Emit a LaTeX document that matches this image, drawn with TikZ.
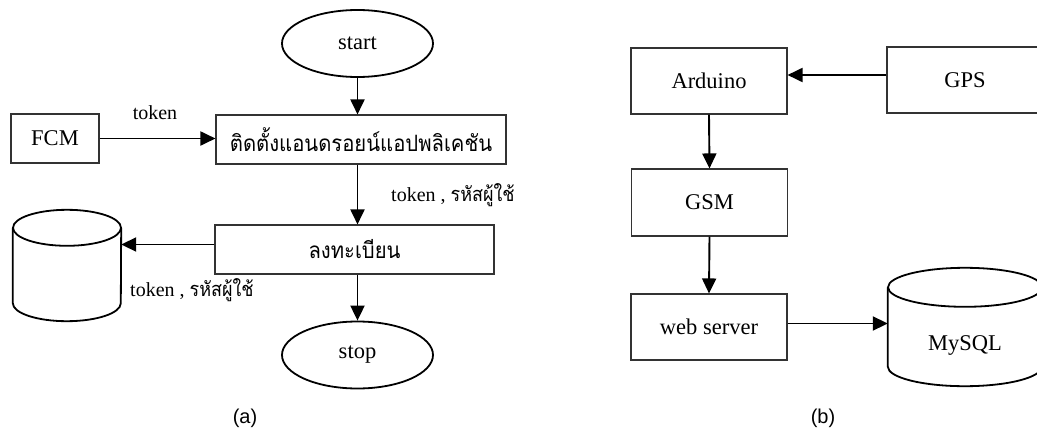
\documentclass[tikz,border=0pt]{standalone}
\usepackage{fontspec}
\setmainfont{Liberation Serif}
\newfontfamily\thaifont[Script=Thai]{Loma}
\newfontfamily\capfont{Liberation Sans}
\usetikzlibrary{arrows.meta,shapes.geometric}
% Thai text is set slightly condensed
\newcommand{\thaitext}[1]{\scalebox{0.9}[1]{\thaifont #1}}

\begin{document}
\begin{tikzpicture}[x=1pt,y=-1pt,
  procbox/.style={rectangle, draw=black!80, line width=1.1pt, inner sep=0pt,
    font=\fontsize{22.5}{26}\selectfont},
  terminal/.style={ellipse, draw, line width=1.8pt, inner sep=0pt,
    minimum width=151pt, minimum height=67pt, font=\fontsize{22.5}{26}\selectfont},
  dbnode/.style={rectangle, draw=none, inner sep=0pt},
  dbline/.style={line width=1.8pt},
  dbtext/.style={font=\fontsize{22.5}{26}\selectfont, inner sep=0pt},
  flow/.style={-{Triangle[length=15pt,width=14pt]}, line width=1.9pt},
  lbl/.style={font=\fontsize{20}{24}\selectfont, inner sep=0pt},
  caption/.style={font=\capfont\fontsize{20}{24}\selectfont, inner sep=0pt}
]
\useasboundingbox (0,0) rectangle (1037,431);
\clip (0,0) rectangle (1037,431);

% ---------- (a) registration flow ----------
\node[terminal] (start) at (357.5,43.5) {start};
\node[procbox, minimum width=290pt, minimum height=49pt] (install) at (361,139.5)
  {\thaitext{ติดตั้งแอนดรอยน์แอปพลิเคชัน}};
\node[procbox, minimum width=88pt, minimum height=49pt] (fcm) at (55,138.5) {FCM};
\node[procbox, minimum width=279pt, minimum height=49pt] (reg) at (354.5,249.5)
  {\thaitext{ลงทะเบียน}};
\node[terminal] (stop) at (357.5,355) {stop};

% database cylinder
\node[dbnode, minimum width=108pt, minimum height=111pt] (db) at (67,265.5) {};
\draw[dbline] ([yshift=-18pt]db.north) ellipse[x radius=54pt, y radius=18pt];
\draw[dbline] ([yshift=-18pt]db.north west) -- ([yshift=18pt]db.south west)
  arc[start angle=180, end angle=360, x radius=54pt, y radius=18pt]
  -- ([yshift=-18pt]db.north east);

\draw[flow] (start.south) -- (start.south |- install.north);
\draw[flow] (fcm.east) -- (fcm.east -| install.west);
\node[lbl] (tok1) at (155,113) {token};
\draw[flow] (install.south -| start.south) -- (start.south |- reg.north);
\node[lbl, anchor=west] (tok2) at (391,195) {token , \thaitext{รหัสผู้ใช้}};
\draw[flow] ([yshift=5pt]reg.west) -- ([yshift=5pt]reg.west -| db.east);
\node[lbl, anchor=west] (tok3) at (130,290) {token , \thaitext{รหัสผู้ใช้}};
\draw[flow] (reg.south -| start.south) -- (stop.north);

\node[caption] (capa) at (245,418) {(a)};

% ---------- (b) tracking system ----------
\node[procbox, minimum width=156pt, minimum height=66pt] (ard) at (709,81) {Arduino};
\node[procbox, minimum width=156pt, minimum height=66pt] (gps) at (965,80) {GPS};
\node[procbox, minimum width=156pt, minimum height=67pt] (gsm) at (709.5,202.5) {GSM};
\node[procbox, minimum width=156pt, minimum height=66pt] (web) at (709,327) {web server};

\node[dbnode, minimum width=154pt, minimum height=118pt] (mysql) at (965,327) {};
\draw[dbline] ([yshift=-19.5pt]mysql.north) ellipse[x radius=77pt, y radius=19.5pt];
\draw[dbline] ([yshift=-19.5pt]mysql.north west) -- ([yshift=19.5pt]mysql.south west)
  arc[start angle=180, end angle=360, x radius=77pt, y radius=19.5pt]
  -- ([yshift=-19.5pt]mysql.north east);
\node[dbtext] (mysqltxt) at ([yshift=-18pt]mysql.center) {MySQL};

\draw[flow] ([yshift=5pt]gps.west) -- ([yshift=5pt]gps.west -| ard.east);
\draw[flow] (ard.south) -- (gsm.north);
\draw[flow] (gsm.south) -- (web.north);
\draw[flow] ([yshift=3.5pt]web.east) -- ([yshift=3.5pt]web.east -| mysql.west);

\node[caption] (capb) at (823,418) {(b)};
\end{tikzpicture}
\end{document}
